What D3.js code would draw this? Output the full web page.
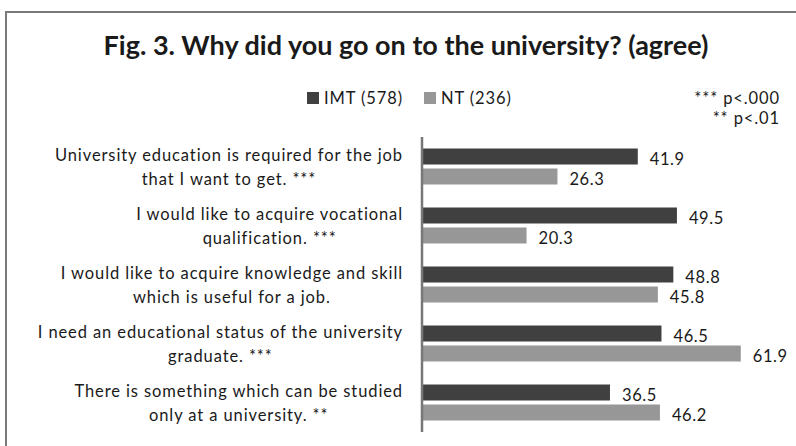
<!DOCTYPE html>
<html>
<head>
<meta charset="utf-8">
<script src="https://cdn.jsdelivr.net/npm/d3@7/dist/d3.min.js"></script>
<style>
  html, body { margin: 0; padding: 0; background: #fff; }
  svg { display: block; }
  text { font-family: Lato, "Open Sans", sans-serif; fill: #1a1a1a; }
</style>
</head>
<body>
<svg id="chart" width="796" height="446"></svg>
<script>
// Survey answers, percentage who agree
const categories = [
  ["University education is required for the job", "that I want to get. ***"],
  ["I would like to acquire vocational", "qualification. ***"],
  ["I would like to acquire knowledge and skill", "which is useful for a job."],
  ["I need an educational status of the university", "graduate. ***"],
  ["There is something which can be studied", "only at a university. **"]
];
const seriesNames = ["IMT (578)", "NT (236)"];
const imtValues = [41.9, 49.5, 48.8, 46.5, 36.5];
const ntValues = [26.3, 20.3, 45.8, 61.9, 46.2];
const seriesColors = ["#404040", "#979797"];
const titleText = "Fig. 3. Why did you go on to the university? (agree)";
const notes = ["*** p<.000", "** p<.01"];

const svg = d3.select("#chart");

// frame
svg.append("rect")
  .attr("x", 6).attr("y", 12)
  .attr("width", 820).attr("height", 460)
  .attr("fill", "none").attr("stroke", "#7a7a7a").attr("stroke-width", 2);

// title, sized to span its line
const title = svg.append("text")
  .attr("x", 406).attr("y", 55)
  .attr("text-anchor", "middle")
  .attr("font-weight", "bold")
  .attr("font-size", 24)
  .text(titleText);
{
  const w = title.node().getComputedTextLength();
  title.attr("font-size", 24 * 605 / w);
}

// scales
const rows = categories.map((c, i) => ({ i, lines: c, values: [imtValues[i], ntValues[i]] }));
const y0 = d3.scaleBand().domain(d3.range(categories.length)).range([137, 432]);
const y1 = d3.scaleBand().domain(d3.range(seriesNames.length))
  .range([11.5, y0.bandwidth() - 11.5]).paddingInner(0.2);
const x = d3.scaleLinear().domain([0, 70]).range([422, 782.5]);

const labelSize = 16.5;
const spacing = "0.9px";

// bars and value labels
const groups = svg.append("g").selectAll("g").data(rows).join("g")
  .attr("transform", d => `translate(0,${y0(d.i)})`);

groups.selectAll("rect").data(d => d.values.map((v, s) => ({ v, s }))).join("rect")
  .attr("x", x(0))
  .attr("y", d => y1(d.s))
  .attr("width", d => x(d.v) - x(0))
  .attr("height", y1.bandwidth())
  .attr("fill", d => seriesColors[d.s]);

groups.selectAll("text.val").data(d => d.values.map((v, s) => ({ v, s }))).join("text")
  .attr("class", "val")
  .attr("x", d => x(d.v) + 12)
  .attr("y", d => y1(d.s) + y1.bandwidth() / 2 + 3)
  .attr("dy", "0.35em")
  .attr("font-size", labelSize)
  .attr("letter-spacing", "0.6px")
  .text(d => d.v.toFixed(1));

// category labels: block right-aligned to the axis, lines centred within it
const labelRight = 403;
const lab = svg.append("g").selectAll("g").data(rows).join("g");
lab.each(function (d) {
  const g = d3.select(this);
  const cy = y0(d.i) + y0.bandwidth() / 2 + 1;
  const texts = d.lines.map((line, k) => g.append("text")
    .attr("y", cy + (k - (d.lines.length - 1) / 2) * 24)
    .attr("dy", "0.35em")
    .attr("font-size", labelSize)
    .attr("letter-spacing", spacing)
    .attr("text-anchor", "middle")
    .text(line));
  const wMax = d3.max(texts, t => t.node().getComputedTextLength());
  texts.forEach(t => t.attr("x", labelRight - wMax / 2));
});

// axis line
svg.append("line")
  .attr("x1", x(0)).attr("x2", x(0))
  .attr("y1", y0.range()[0]).attr("y2", y0.range()[1])
  .attr("stroke", "#777").attr("stroke-width", 2.5);

// legend
const legend = svg.append("g");
const legendX = [307, 424];
seriesNames.forEach((name, s) => {
  legend.append("rect")
    .attr("x", legendX[s]).attr("y", 92)
    .attr("width", 12).attr("height", 12)
    .attr("fill", seriesColors[s]);
  legend.append("text")
    .attr("x", legendX[s] + 17).attr("y", 98)
    .attr("dy", "0.35em")
    .attr("font-size", labelSize)
    .attr("letter-spacing", spacing)
    .text(name);
});

// significance notes
svg.append("g").selectAll("text").data(notes).join("text")
  .attr("x", 780)
  .attr("y", (d, k) => 98 + k * 20)
  .attr("dy", "0.35em")
  .attr("text-anchor", "end")
  .attr("font-size", labelSize)
  .attr("letter-spacing", spacing)
  .text(d => d);
</script>
</body>
</html>
